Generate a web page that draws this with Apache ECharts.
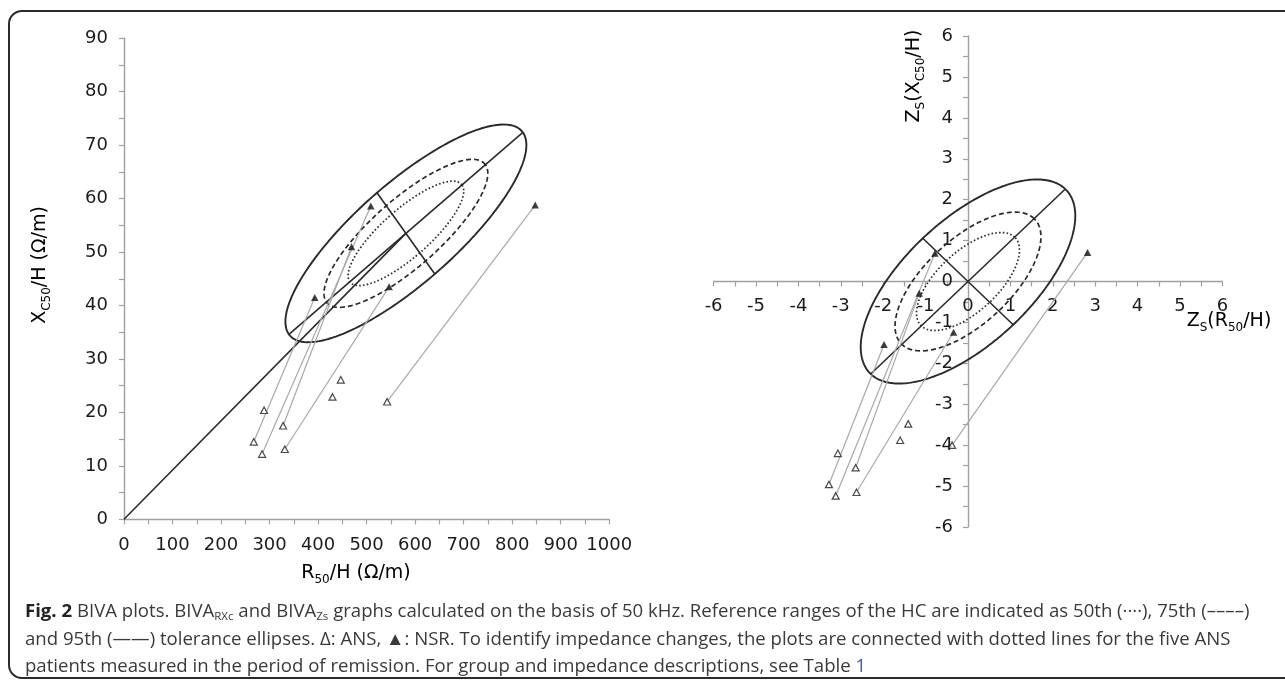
<!DOCTYPE html>
<html><head><meta charset="utf-8">
<script src="https://cdn.jsdelivr.net/npm/echarts@6/dist/echarts.min.js"></script>
<style>
html,body{margin:0;padding:0;background:#fff;width:1285px;height:681px;overflow:hidden;}
#frame{position:absolute;left:8px;top:10px;width:1330px;height:669px;border:2px solid #2b2b2b;border-radius:14px;box-sizing:border-box;}
#chart{position:absolute;left:0;top:0;width:1285px;height:681px;}
#caption{position:absolute;left:25px;top:596px;font-family:'Open Sans';font-size:17px;line-height:27.5px;color:#3a3a3a;white-space:nowrap;}
#caption b{color:#222;}
#caption sub{font-size:0.62em;vertical-align:-0.3em;line-height:0;}
#caption .lk{color:#3b5bc8;}
</style></head>
<body>
<div id="frame"></div>
<div id="chart"></div>
<div id="caption"><span id="l1"><b>Fig. 2</b> BIVA plots. BIVA<sub>RXc</sub> and BIVA<sub>Zs</sub> graphs calculated on the basis of 50&nbsp;kHz. Reference ranges of the HC are indicated as 50th (····), 75th (––––)</span><br>and 95th (——) tolerance ellipses. Δ: ANS, ▲: NSR. To identify impedance changes, the plots are connected with dotted lines for the five ANS<br>patients measured in the period of remission. For group and impedance descriptions, see Table <span class="lk">1</span></div>
<script>
// ---------------- DATA ----------------
// Left panel: BIVA RXc  (R50/H, Xc50/H in Ω/m)
const leftRRange = [0, 1000], leftRStep = 100;
const leftXcRange = [0, 90], leftXcStep = 10;
const leftAnsR  = [288.7, 267.5, 284.6, 327.9, 331.4, 429.7, 446.8, 542.3];
const leftAnsXc = [20.4, 14.5, 12.2, 17.5, 13.1, 22.9, 26.1, 22.0];
const leftNsrR  = [508.7, 468.9, 393.2, 546.4, 847.5];
const leftNsrXc = [58.6, 51.0, 41.5, 43.5, 58.8];
// 95th tolerance ellipse: centre and conjugate semi-axes (data units)
const leftEllCenter = [581.0, 53.5];
const leftEllAxisA  = [241.1, 18.9];
const leftEllAxisB  = [-59.6, 7.6];

// Right panel: BIVA Zs
const rightRange = [-6, 6], rightStep = 1;
const rightAnsZR = [-3.07, -3.28, -3.12, -2.65, -2.63, -1.60, -1.41, -0.375];
const rightAnsZX = [-4.20, -4.96, -5.24, -4.55, -5.15, -3.88, -3.48, -4.00];
const rightNsrZR = [-0.78, -1.15, -1.98, -0.34, 2.82];
const rightNsrZX = [0.69, -0.29, -1.54, -1.24, 0.71];
const rightEllCenter = [0, 0];
const rightEllAxisA  = [2.295, 2.26];
const rightEllAxisB  = [-1.066, 1.056];

// tolerance ellipse scale relative to 95th: 50th, 75th, 95th
const ellipseLevels = [0.48, 0.68, 1.0];
// ANS -> NSR pairs (patients measured in remission)
const pairsAns = [1, 2, 3, 4, 7];
const pairsNsr = [2, 0, 1, 3, 4];

// ---------------- BUILD ----------------
const FONT = 'DejaVu Sans';
const INK = '#2a2a2a';
function ellipse(c, a, b, k) {
  const pts = [];
  for (let i = 0; i <= 240; i++) {
    const t = i / 240 * 2 * Math.PI;
    pts.push([c[0] + k * (a[0] * Math.cos(t) + b[0] * Math.sin(t)),
              c[1] + k * (a[1] * Math.cos(t) + b[1] * Math.sin(t))]);
  }
  return pts;
}
const ellStyles = [
  {type: [1.6, 2.2], width: 1.7},
  {type: [5, 3], width: 1.7},
  {type: 'solid', width: 1.9}
];
function lineSeries(data, gi, style, z) {
  return {type: 'line', xAxisIndex: gi, yAxisIndex: gi, data: data, symbol: 'none',
    silent: true, z: z || 2, lineStyle: Object.assign({color: INK}, style)};
}
function panelSeries(gi, ansX, ansY, nsrX, nsrY, c, a, b, withOrigin) {
  const s = [];
  ellipseLevels.forEach((k, i) => s.push(lineSeries(ellipse(c, a, b, k), gi, ellStyles[i])));
  s.push(lineSeries([[c[0] - a[0], c[1] - a[1]], [c[0] + a[0], c[1] + a[1]]], gi, {width: 1.6}));
  s.push(lineSeries([[c[0] - b[0], c[1] - b[1]], [c[0] + b[0], c[1] + b[1]]], gi, {width: 1.6}));
  if (withOrigin) s.push(lineSeries([[0, 0], [c[0], c[1]]], gi, {width: 1.6}));
  pairsAns.forEach((ai, j) => {
    const ni = pairsNsr[j];
    s.push(lineSeries([[ansX[ai], ansY[ai]], [nsrX[ni], nsrY[ni]]], gi, {color: '#a9a9a9', width: 1.2}, 3));
  });
  s.push({type: 'scatter', xAxisIndex: gi, yAxisIndex: gi, symbol: 'triangle', symbolSize: [7, 6.5], z: 5,
    itemStyle: {color: '#fff', borderColor: '#1e1e1e', borderWidth: 1.2},
    data: ansX.map((v, i) => [v, ansY[i]])});
  s.push({type: 'scatter', xAxisIndex: gi, yAxisIndex: gi, symbol: 'triangle', symbolSize: [7.5, 7], z: 6,
    itemStyle: {color: '#111'},
    data: nsrX.map((v, i) => [v, nsrY[i]])});
  return s;
}
const axisCol = '#a0a0a0';
function axis(gi, range, step, margin, extra) {
  return Object.assign({
    type: 'value', gridIndex: gi, min: range[0], max: range[1], interval: step,
    splitLine: {show: false},
    axisLine: {show: true, onZero: false, lineStyle: {color: axisCol, width: 1.4}},
    axisTick: {show: true, inside: false, length: 5, lineStyle: {color: axisCol, width: 1.2}},
    minorTick: {show: true, splitNumber: 2, length: 5, lineStyle: {color: axisCol, width: 1.2}},
    axisLabel: {color: '#1c1c1c', fontSize: 18, fontFamily: FONT, margin: margin,
      formatter: v => String(v)}
  }, extra || {});
}
const richBase = {
  a: {fontSize: 19, fontFamily: FONT, color: '#1c1c1c', lineHeight: 26, verticalAlign: 'middle'},
  s: {fontSize: 12, fontFamily: FONT, color: '#1c1c1c', lineHeight: 13, verticalAlign: 'bottom'}
};
function title(x, y, text, rot) {
  return {type: 'text', x: x, y: y, rotation: rot || 0, silent: true,
    style: {text: text, rich: richBase, align: 'center', verticalAlign: 'middle'}};
}

// right panel grid geometry (zero lines cross inside the grid)
const rTop = 36, rHeight = 491, rLeft = 713.6, rWidth = 508.8;
const rZeroYOffset = -rHeight / 2;   // x axis sits on y = 0
const rZeroXOffset = -rWidth / 2;    // y axis sits on x = 0

const chart = echarts.init(document.getElementById('chart'), null, {renderer: 'canvas'});
chart.setOption({
  animation: false,
  backgroundColor: 'transparent',
  grid: [
    {left: 124, top: 38.3, width: 485.2, height: 481, containLabel: false},
    {left: rLeft, top: rTop, width: rWidth, height: rHeight, containLabel: false}
  ],
  xAxis: [
    axis(0, leftRRange, leftRStep, 17),
    axis(1, rightRange, rightStep, 16, {position: 'bottom', offset: rZeroYOffset})
  ],
  yAxis: [
    axis(0, leftXcRange, leftXcStep, 16),
    axis(1, rightRange, rightStep, 15, {position: 'left', offset: rZeroXOffset})
  ],
  series: [].concat(
    panelSeries(0, leftAnsR, leftAnsXc, leftNsrR, leftNsrXc, leftEllCenter, leftEllAxisA, leftEllAxisB, true),
    panelSeries(1, rightAnsZR, rightAnsZX, rightNsrZR, rightNsrZX, rightEllCenter, rightEllAxisA, rightEllAxisB, false)
  ),
  graphic: [
    title(40, 265, '{a|X}{s|C50}{a|/H (Ω/m)}', Math.PI / 2),
    title(356, 573, '{a|R}{s|50}{a|/H (Ω/m)}'),
    title(914, 76, '{a|Z}{s|S}{a|(X}{s|C50}{a|/H)}', Math.PI / 2),
    title(1229, 321, '{a|Z}{s|S}{a|(R}{s|50}{a|/H)}')
  ]
});

// fit caption width (line 1 spans ~25px .. 1250px)
(function fit() {
  const cap = document.getElementById('caption');
  const w = document.getElementById('l1').getBoundingClientRect().width;
  const fs = 17 * 1225 / w;
  cap.style.fontSize = fs.toFixed(2) + 'px';
})();
</script>
</body></html>
